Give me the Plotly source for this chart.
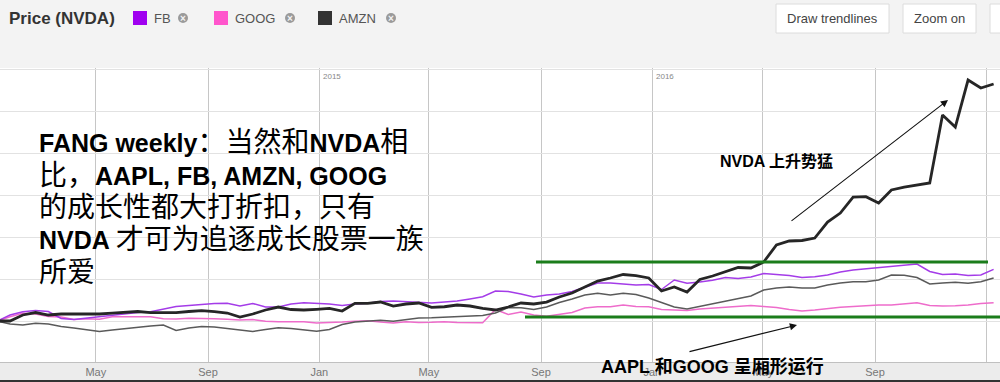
import pandas as pd
import plotly.graph_objects as go

# ---------------- data (percent change since first week) -------------
dates = pd.date_range("2014-01-13", periods=79, freq="14D")

nvda = [0, 0, 14.3, 20.2, 14.3, 16.7, 16.7, 16.7, 16.7, 19.0,
        20.2, 22.6, 19.8, 19.0, 19.8, 22.6, 24.5, 22.6, 19.0, 9.5,
        16.7, 26.2, 33.3, 27.4, 26.2, 27.9, 30.2, 23.8, 42.1, 42.1,
        45.2, 35.7, 40.5, 42.9, 32.6, 34.0, 38.1, 35.7, 29.8, 26.2,
        33.3, 42.9, 40.5, 45.2, 57.1, 66.7, 81.0, 95.2, 102.4, 110.7,
        108.3, 102.4, 71.4, 81.0, 69.0, 98.8, 107.1, 117.9, 127.4, 126.2,
        140.5, 181.0, 190.5, 191.7, 197.6, 235.7, 257.1, 295.2, 296.0, 281.0,
        311.9, 319.0, 323.8, 328.6, 490.5, 461.9, 573.8, 554.8, 564.3]

fb = [0, 14.3, 22.1, 25.0, 22.6, 6.0, 3.6, 7.1, 10.7, 14.3,
      17.9, 20.2, 22.1, 28.6, 34.5, 36.9, 39.3, 41.7, 42.1, 35.7,
      41.7, 33.3, 33.3, 40.5, 43.6, 42.9, 40.5, 36.9, 40.5, 42.1,
      46.4, 47.6, 46.0, 46.0, 42.9, 45.2, 47.6, 52.4, 57.9, 71.4,
      70.2, 64.3, 57.1, 61.9, 64.3, 70.2, 81.0, 90.5, 90.5, 87.6,
      85.7, 86.9, 75.0, 97.6, 89.8, 92.9, 96.9, 103.6, 101.2, 104.8,
      113.1, 110.7, 108.3, 103.6, 105.5, 109.5, 116.7, 121.4, 124.5, 127.4,
      129.0, 132.1, 135.7, 117.9, 110.7, 111.9, 108.3, 109.5, 123.1]

amzn = [0, -7.1, -9.5, -5.5, -7.1, -13.1, -16.7, -21.4, -25.0, -21.4,
        -17.9, -14.3, -11.9, -9.5, -22.6, -16.7, -13.1, -14.3, -17.4, -21.4,
        -25.0, -20.2, -16.2, -17.9, -20.7, -24.5, -20.0, -8.3, -2.4, 0,
        1.9, -0.7, 2.4, 7.1, 7.6, 8.8, 10.2, 11.2, 13.1, 19.0,
        32.1, 31.4, 27.4, 33.3, 44.0, 52.4, 61.9, 65.9, 61.9, 65.9,
        63.1, 54.8, 44.0, 33.3, 28.6, 34.5, 40.0, 46.4, 53.6, 59.5,
        73.8, 78.6, 81.0, 78.6, 78.6, 85.7, 90.5, 93.6, 93.6, 97.6,
        109.5, 108.8, 103.6, 88.1, 90.5, 92.1, 89.8, 93.6, 102.4]

goog = [0, 10.2, 18.3, 16.7, 10.7, 9.5, 3.6, 5.2, 4.0, 10.0,
        10.2, 10.2, 10.0, 5.2, 4.8, 6.4, 6.4, 5.2, 4.0, 2.4,
        3.6, -0.5, -1.7, -1.7, -1.7, -4.8, -4.0, -2.4, -0.5, 0.5,
        -2.4, -4.8, -1.9, -3.6, -3.1, -1.7, -3.6, -4.0, -4.0, 27.4,
        15.5, 21.4, 14.3, 11.2, 15.0, 20.2, 31.0, 34.0, 34.0, 38.1,
        34.5, 34.0, 27.4, 26.2, 25.0, 28.6, 30.5, 32.4, 35.2, 36.9,
        34.5, 32.1, 27.4, 23.8, 26.2, 30.2, 32.6, 34.5, 36.9, 38.1,
        38.1, 40.5, 43.6, 36.9, 35.7, 36.4, 38.1, 41.7, 43.6]

tick_dates = ["2014-05-01", "2014-09-01", "2015-01-01", "2015-05-01", "2015-09-01",
              "2016-01-01", "2016-05-01", "2016-09-01", "2017-01-01"]
tick_text = ["May", "Sep", "Jan", "May", "Sep", "Jan", "May", "Sep", ""]
year_dates = ["2015-01-01", "2016-01-01"]
year_text = ["2015", "2016"]

# green channel levels (percent)
band_top, band_bottom = 140.5, 9.5

# ---------------- layout helpers ----------------
W, H, T, B = 1000, 382, 68, 20
PH = H - T - B


def px(x):
    return x / W


def py(y):
    return (H - B - y) / PH


FONT = "Liberation Sans, Arial, Noto Sans CJK SC, sans-serif"
CJK = "Noto Sans CJK SC, Liberation Sans, sans-serif"

fig = go.Figure()
fig.add_trace(go.Scatter(x=dates, y=goog, mode="lines", name="GOOG",
                         line=dict(color="#ee6ccb", width=1.5)))
fig.add_trace(go.Scatter(x=dates, y=amzn, mode="lines", name="AMZN",
                         line=dict(color="#5a5a5a", width=1.5)))
fig.add_trace(go.Scatter(x=dates, y=fb, mode="lines", name="FB",
                         line=dict(color="#a43ce8", width=1.5)))
fig.add_trace(go.Scatter(x=dates, y=nvda, mode="lines", name="NVDA",
                         line=dict(color="#262626", width=2.8)))

shapes = []
annos = []

# bottom axis band
shapes.append(dict(type="rect", xref="paper", yref="paper", x0=0, x1=1,
                   y0=py(382), y1=py(362), fillcolor="#ececec", line_width=0, layer="below"))
shapes.append(dict(type="line", xref="paper", yref="paper", x0=0, x1=1,
                   y0=py(381), y1=py(381), line=dict(color="#333", width=2)))

# green channel lines
shapes.append(dict(type="line", xref="paper", yref="y", x0=px(536), x1=px(988),
                   y0=band_top, y1=band_top, line=dict(color="#1b7d1b", width=3)))
shapes.append(dict(type="line", xref="paper", yref="y", x0=px(525), x1=1,
                   y0=band_bottom, y1=band_bottom, line=dict(color="#1b7d1b", width=3)))

# header: title + legend
annos.append(dict(text="<b>Price (NVDA)</b>", x=px(7), y=py(18), xref="paper", yref="paper",
                  xanchor="left", yanchor="middle", showarrow=False,
                  font=dict(family=FONT, size=17, color="#333")))
legend_items = [("FB", "#a000f0", 133, 183), ("GOOG", "#ff55cc", 214, 290), ("AMZN", "#333333", 318, 391)]
for name, col, x0, xc in legend_items:
    shapes.append(dict(type="rect", xref="paper", yref="paper", x0=px(x0), x1=px(x0 + 14),
                       y0=py(25), y1=py(11), fillcolor=col, line_width=0))
    annos.append(dict(text=name, x=px(x0 + 19), y=py(18.5), xref="paper", yref="paper",
                      xanchor="left", yanchor="middle", showarrow=False,
                      font=dict(family=FONT, size=13, color="#555")))
    shapes.append(dict(type="circle", xref="paper", yref="paper", x0=px(xc - 5), x1=px(xc + 5),
                       y0=py(23), y1=py(13), fillcolor="#9a9a9a", line_width=0))
    annos.append(dict(text="<b>×</b>", x=px(xc), y=py(18), xref="paper", yref="paper",
                      xanchor="center", yanchor="middle", showarrow=False,
                      font=dict(family=FONT, size=10, color="#f4f4f4")))

# buttons
for label, x0, x1 in [("Draw trendlines", 776, 889), ("Zoom on", 903, 976), ("", 990, 1010)]:
    shapes.append(dict(type="rect", xref="paper", yref="paper", x0=px(x0), x1=px(x1),
                       y0=py(33), y1=py(4), fillcolor="#ffffff", line=dict(color="#dcdcdc", width=1)))
    if label:
        annos.append(dict(text=label, x=px((x0 + x1) / 2), y=py(18.5), xref="paper", yref="paper",
                          xanchor="center", yanchor="middle", showarrow=False,
                          font=dict(family=FONT, size=13, color="#444")))

# year labels
for d, t in zip(year_dates, year_text):
    annos.append(dict(text=t, x=d, y=py(76), xref="x", yref="paper", xanchor="left",
                      yanchor="middle", xshift=2, showarrow=False,
                      font=dict(family=FONT, size=8, color="#888")))

# big commentary text
L = '<span style="font-family:Liberation Sans;font-size:25px"><b>%s</b></span>'
big_lines = [
    (L % "FANG weekly") + "：当然和" + (L % "NVDA") + "相",
    "比，" + (L % "AAPL, FB, AMZN, GOOG"),
    "的成长性都大打折扣，只有",
    (L % "NVDA ") + "才可为追逐成长股票一族",
    "所爱",
]
for i, t in enumerate(big_lines):
    annos.append(dict(text=t, x=px(37), y=py(140 + 32.5 * i), xref="paper", yref="paper",
                      xanchor="left", yanchor="middle", showarrow=False,
                      font=dict(family=CJK, size=28, color="#000")))

# callouts
annos.append(dict(text='<b><span style="font-family:Liberation Sans">NVDA</span> 上升势猛</b>',
                  x=px(718), y=py(160), xref="paper", yref="paper", xanchor="left",
                  yanchor="middle", showarrow=False, font=dict(family=CJK, size=16, color="#000")))
annos.append(dict(text='<b><span style="font-family:Liberation Sans">AAPL </span>和<span style="font-family:Liberation Sans">GOOG </span>呈厢形运行</b>',
                  x=px(599), y=py(365), xref="paper", yref="paper", xanchor="left",
                  yanchor="middle", showarrow=False, font=dict(family=CJK, size=18, color="#000")))
annos.append(dict(text="", x=px(948), y=py(100), xref="paper", yref="paper",
                  ax=790 - 948, ay=222 - 100, showarrow=True, arrowhead=2, arrowsize=1.3,
                  arrowwidth=1.1, arrowcolor="#111", standoff=0))
annos.append(dict(text="", x=px(797), y=py(325), xref="paper", yref="paper",
                  ax=688 - 797, ay=352 - 325, showarrow=True, arrowhead=2, arrowsize=1.3,
                  arrowwidth=1.1, arrowcolor="#111", standoff=0))

fig.update_layout(
    width=W, height=H, autosize=False,
    margin=dict(l=0, r=0, t=T, b=B, pad=0),
    paper_bgcolor="#f3f3f3", plot_bgcolor="#ffffff",
    showlegend=False,
    shapes=shapes, annotations=annos,
    xaxis=dict(range=["2014-01-16", "2017-01-16"], tickvals=tick_dates, ticktext=tick_text,
               showgrid=True, gridcolor="#c6c6c6", gridwidth=1, ticks="", ticklabelstandoff=0,
               tickfont=dict(family=FONT, size=11, color="#777"),
               showline=True, linecolor="#c0c0c0", zeroline=False, fixedrange=True),
    yaxis=dict(range=[-97.6, 602.4], dtick=100, tick0=0, showticklabels=False,
               showgrid=True, gridcolor="#e2e2e2", zeroline=False, ticks="", fixedrange=True),
)

fig.write_html("out.html")
